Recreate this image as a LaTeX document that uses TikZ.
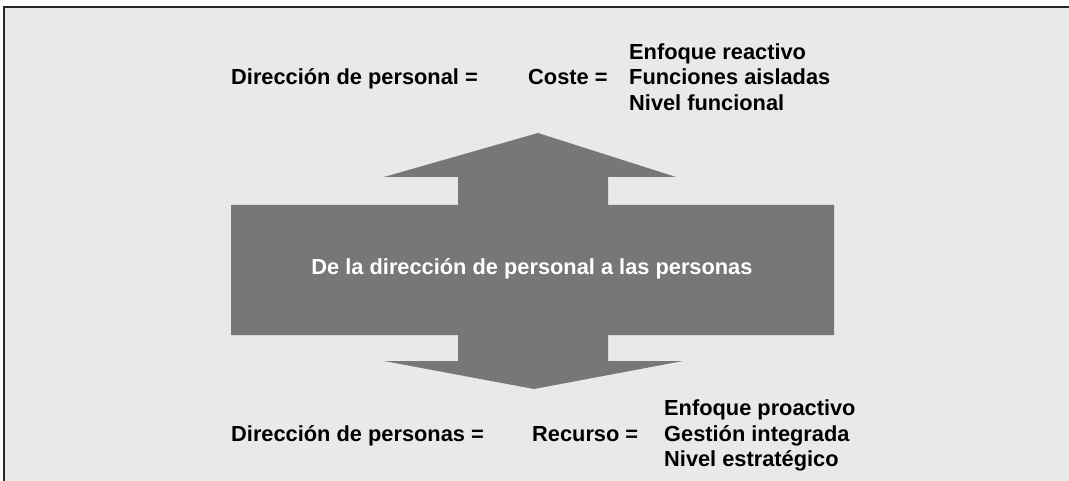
\documentclass[tikz,border=0pt]{standalone}
\usepackage{fontspec}
\setmainfont{Liberation Sans}
\definecolor{panelgray}{HTML}{E9E9E9}
\definecolor{arrowgray}{HTML}{777777}
\usetikzlibrary{positioning}
\tikzset{
	labelnode/.style={
			anchor=base west,
			inner sep=0pt,
			font=\fontsize{21.8}{25.5}\selectfont\bfseries,
			text=black
		},
	centernode/.style={
			labelnode,
			anchor=base,
			text=white
		},
	framestyle/.style={
			draw=black!85,
			line width=1.5pt
		}
}

\begin{document}
\begin{tikzpicture}[x=1pt, y=-1pt]
\useasboundingbox (0,0) rectangle (1069,481);

% panel
\fill[panelgray] (4,7) rectangle (1069,481);
\draw[framestyle] (4,481) -- (4,7) -- (1069,7);

% double arrow
\fill[arrowgray] (231,205) -- (458,205) -- (458,177) -- (384,177) -- (538,133)
	-- (676,177) -- (608,177) -- (608,205) -- (834,205) -- (834,335)
	-- (608,335) -- (608,361) -- (683,361) -- (534,389) -- (384,361)
	-- (458,361) -- (458,335) -- (231,335) -- cycle;
\node[centernode] (mid) at (532,275) {De la dirección de personal a las personas};

% top
\node[labelnode] (dp1) at (231,85) {Dirección de personal =};
\node[labelnode] (coste) at (528,85) {Coste =};
\node[labelnode] (t1) at (629,59.5) {Enfoque reactivo};
\node[labelnode] (t2) at (629,85) {Funciones aisladas};
\node[labelnode] (t3) at (629,110.5) {Nivel funcional};

% bottom
\node[labelnode] (dp2) at (231,441) {Dirección de personas =};
\node[labelnode] (recurso) at (532,441) {Recurso =};
\node[labelnode] (b1) at (664,415.5) {Enfoque proactivo};
\node[labelnode] (b2) at (664,441) {Gestión integrada};
\node[labelnode] (b3) at (664,466.5) {Nivel estratégico};
\end{tikzpicture}
\end{document}
